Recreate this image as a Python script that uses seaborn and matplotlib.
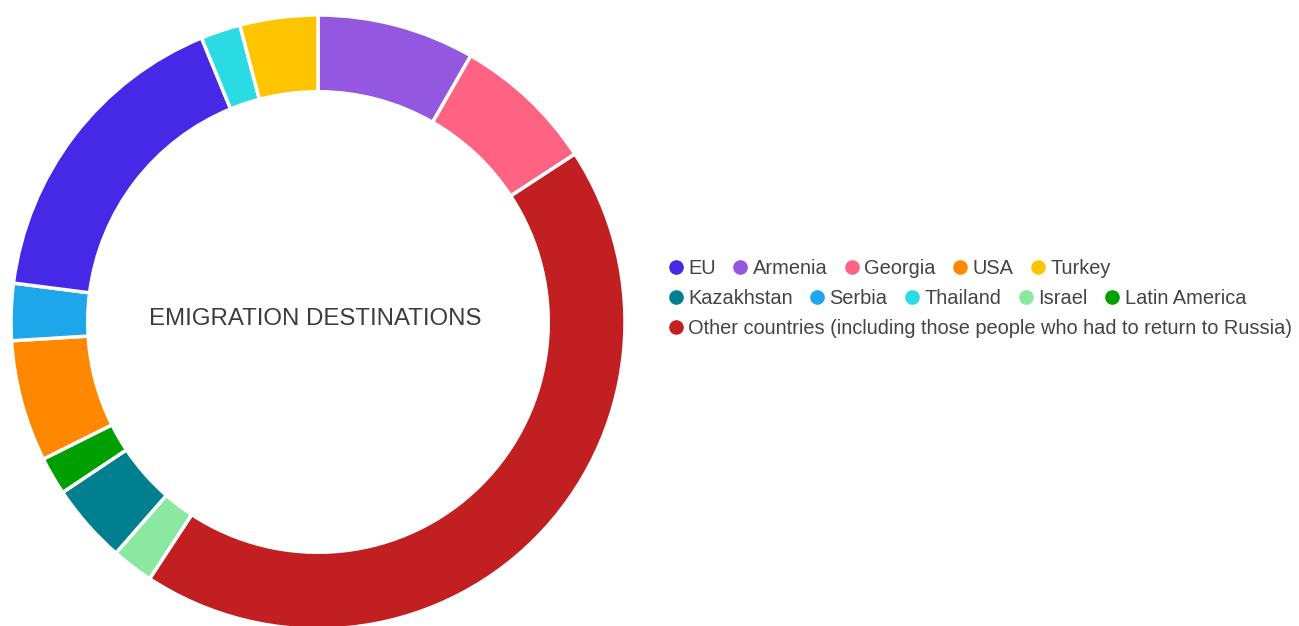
import numpy as np
import pandas as pd
import seaborn as sns
import matplotlib.pyplot as plt
from matplotlib.lines import Line2D

# slices in drawing order (clockwise from 12 o'clock), shares in %
countries = ["Armenia", "Georgia", "Other countries (including those people who had to return to Russia)",
             "Israel", "Kazakhstan", "Latin America", "USA", "Serbia", "EU", "Thailand", "Turkey"]
shares = [8.3, 7.5, 43.5, 2.2, 4.2, 2.0, 6.4, 3.0, 16.8, 2.1, 4.1]

colors = {"EU": "#4529E6", "Armenia": "#9457E0", "Georgia": "#FF6384", "USA": "#FF8800",
          "Turkey": "#FFC400", "Kazakhstan": "#007F8F", "Serbia": "#1DA7EA", "Thailand": "#2ADBE3",
          "Israel": "#8AE8A0", "Latin America": "#009F00",
          "Other countries (including those people who had to return to Russia)": "#C11F21"}

legend_rows = [["EU", "Armenia", "Georgia", "USA", "Turkey"],
               ["Kazakhstan", "Serbia", "Thailand", "Israel", "Latin America"],
               ["Other countries (including those people who had to return to Russia)"]]

df = pd.DataFrame({"country": countries, "share": shares})

sns.set_theme(style="white")
plt.rcParams["font.family"] = ["Liberation Sans", "DejaVu Sans"]

fig = plt.figure(figsize=(12.99, 6.26), dpi=100)
ax = fig.add_axes([11 / 1299, -3 / 626, 614 / 1299, 614 / 626])
ax.pie(df["share"], colors=[colors[c] for c in df["country"]], startangle=90, counterclock=False,
       radius=1, wedgeprops=dict(width=0.25, edgecolor="white", linewidth=2.5))
ax.set_xlim(-1, 1)
ax.set_ylim(-1, 1)
ax.set_aspect("equal")
ax.axis("off")
ax.text(-0.01, 0.01, "EMIGRATION DESTINATIONS", ha="center", va="center", fontsize=17.3, color="#3c3c3c")

row_y = [268, 298, 328]
for names, y in zip(legend_rows, row_y):
    handles = [Line2D([], [], marker="o", linestyle="", markersize=9.5, markerfacecolor=colors[n],
                      markeredgecolor=colors[n]) for n in names]
    fig.legend(handles, names, loc="center left", bbox_to_anchor=(667 / 1299, 1 - y / 626),
               ncol=len(names), frameon=False, fontsize=14.4, handlelength=0.85, handletextpad=0.2,
               columnspacing=0.8, borderpad=0, borderaxespad=0, labelcolor="#444444")

fig.savefig("out.png", dpi=100)
